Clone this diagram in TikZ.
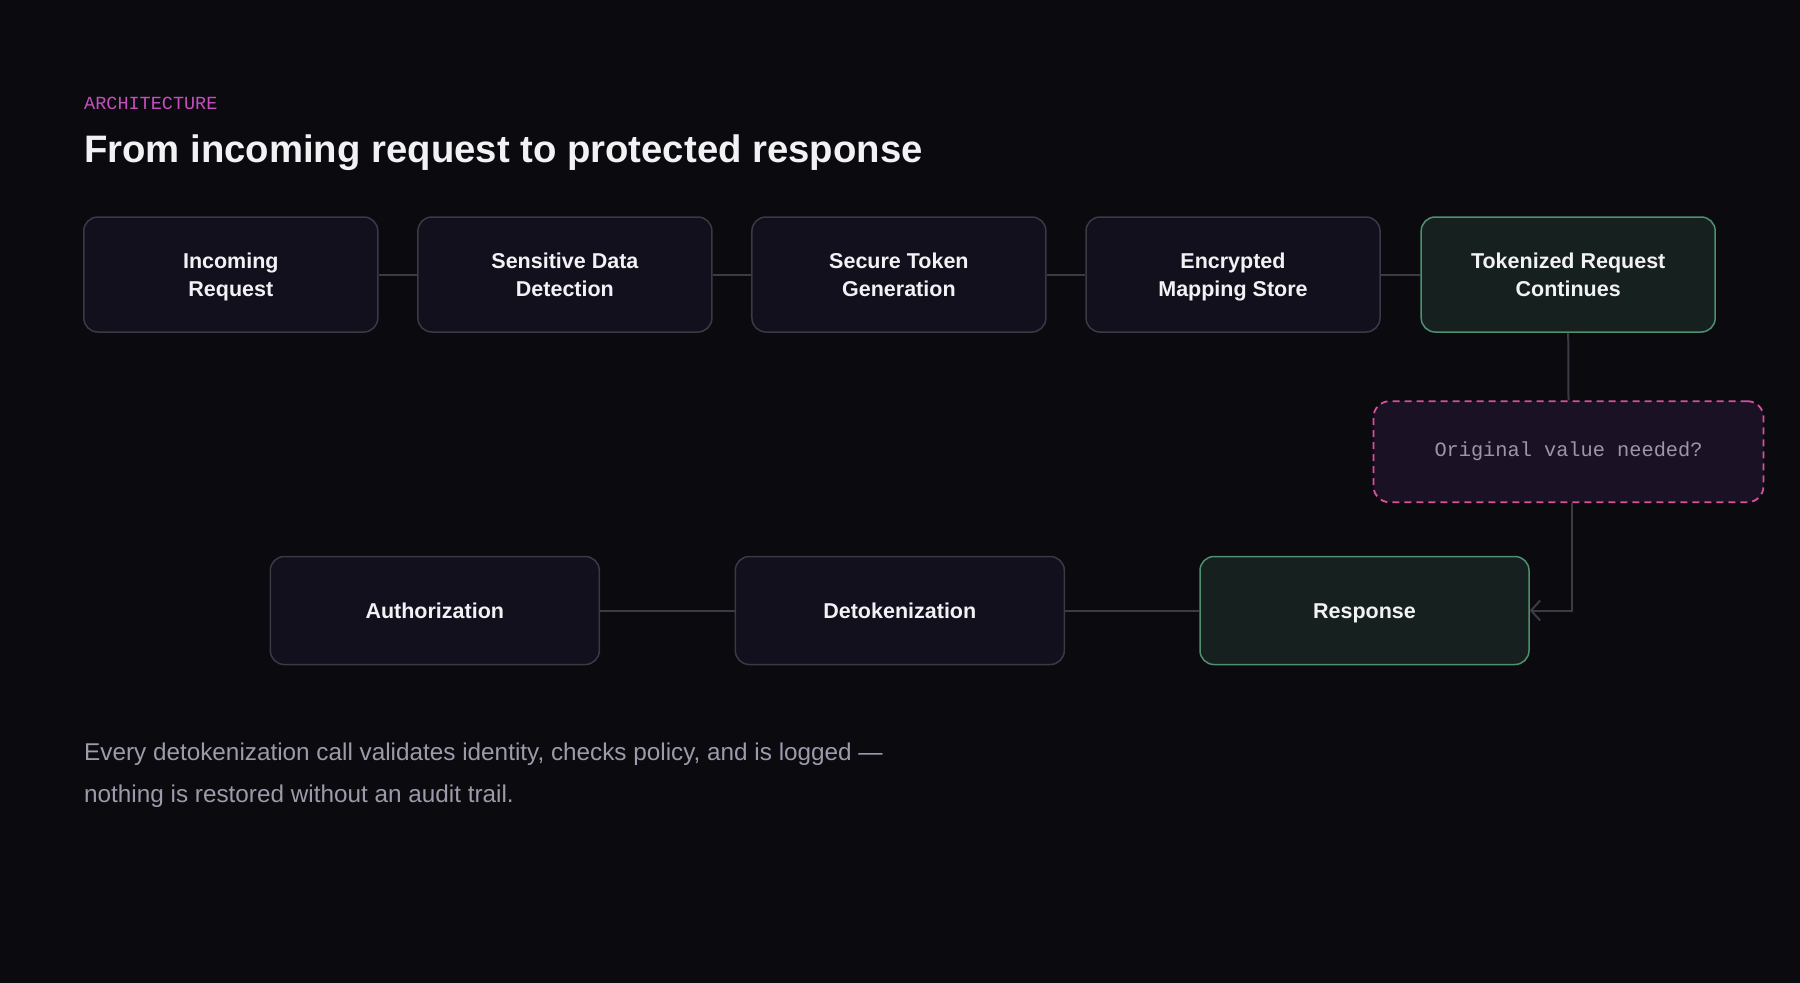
\documentclass[tikz,border=0pt]{standalone}
\usepackage{fontspec}
\setmainfont{Liberation Sans}
\newfontfamily\monof{Liberation Mono}
\usetikzlibrary{arrows.meta}
\definecolor{bgc}{HTML}{0A0A0F}
\definecolor{boxfill}{HTML}{12101D}
\definecolor{boxline}{HTML}{3B3946}
\definecolor{grfill}{HTML}{16201F}
\definecolor{grline}{HTML}{4F9070}
\definecolor{pinkline}{HTML}{D9509A}
\definecolor{qfill}{HTML}{1A1125}
\definecolor{conn}{HTML}{3C3B45}
\definecolor{whitetxt}{HTML}{F2F2F5}
\definecolor{monotxt}{HTML}{9B97A6}
\definecolor{foottxt}{HTML}{9E9AAB}
\definecolor{kicker}{HTML}{C64FC0}
\tikzset{
  stepbox/.style={draw=boxline, fill=boxfill, line width=1.5pt, rounded corners=14pt,
    text=whitetxt, align=center, inner sep=0pt, text depth=0pt,
    font=\fontsize{21.5}{28}\selectfont\bfseries},
  topbox/.style={stepbox, minimum width=294pt, minimum height=115pt},
  botbox/.style={stepbox, minimum width=329pt, minimum height=108pt, text height=15.5pt},
  greenbox/.style={draw=grline, fill=grfill},
  qbox/.style={draw=pinkline, fill=qfill, line width=1.8pt, dash pattern=on 7pt off 5pt,
    rounded corners=16pt, minimum width=390pt, minimum height=101pt,
    text=monotxt, font=\monof\fontsize{20.3}{24}\selectfont},
  link/.style={draw=conn, line width=2pt},
  arr/.style={link, -{Straight Barb[length=9pt,width=20pt,line width=2pt]}},
}
\begin{document}
\begin{tikzpicture}[x=1pt,y=-1pt]
\fill[bgc] (0,0) rectangle (1800,983);
\useasboundingbox (0,0) rectangle (1800,983);
% headings
\node[anchor=base west, inner sep=0pt, text=kicker, font=\monof\fontsize{18.5}{22}\selectfont] (kick) at (84,109) {ARCHITECTURE};
\node[anchor=base west, inner sep=0pt, text=whitetxt, font=\fontsize{38.3}{42}\selectfont\bfseries] (title) at (84,162) {From incoming request to protected response};
% top row
\node[topbox] (in) at (230.8,274.5) {Incoming\\Request};
\node[topbox] (sd) at (564.9,274.5) {Sensitive Data\\Detection};
\node[topbox] (st) at (898.9,274.5) {Secure Token\\Generation};
\node[topbox] (em) at (1233,274.5) {Encrypted\\Mapping Store};
\node[topbox, greenbox] (tk) at (1568.2,274.5) {Tokenized Request\\Continues};
% question
\node[qbox] (q) at (1568.5,451.7) {Original value needed?};
% bottom row
\node[botbox] (au) at (434.8,610.5) {Authorization};
\node[botbox] (dt) at (899.8,610.5) {Detokenization};
\node[botbox, greenbox] (rs) at (1364.5,610.5) {Response};
% connectors
\draw[link] (in.east) -- (sd.west);
\draw[link] (sd.east) -- (st.west);
\draw[link] (st.east) -- (em.west);
\draw[link] (em.east) -- (tk.west);
\draw[link] (tk.south) -- (q.north);
\coordinate (qb) at ([xshift=3.5pt]q.south);
\draw[arr] (qb) |- (rs.east);
\draw[link] (rs.west) -- (dt.east);
\draw[link] (dt.west) -- (au.east);
% footer
\node[anchor=base west, inner sep=0pt, text=foottxt, font=\fontsize{24.3}{28}\selectfont] (f1) at (84,760) {Every detokenization call validates identity, checks policy, and is logged —};
\node[anchor=base west, inner sep=0pt, text=foottxt, font=\fontsize{24.3}{28}\selectfont] (f2) at (84,802) {nothing is restored without an audit trail.};
\end{tikzpicture}
\end{document}
